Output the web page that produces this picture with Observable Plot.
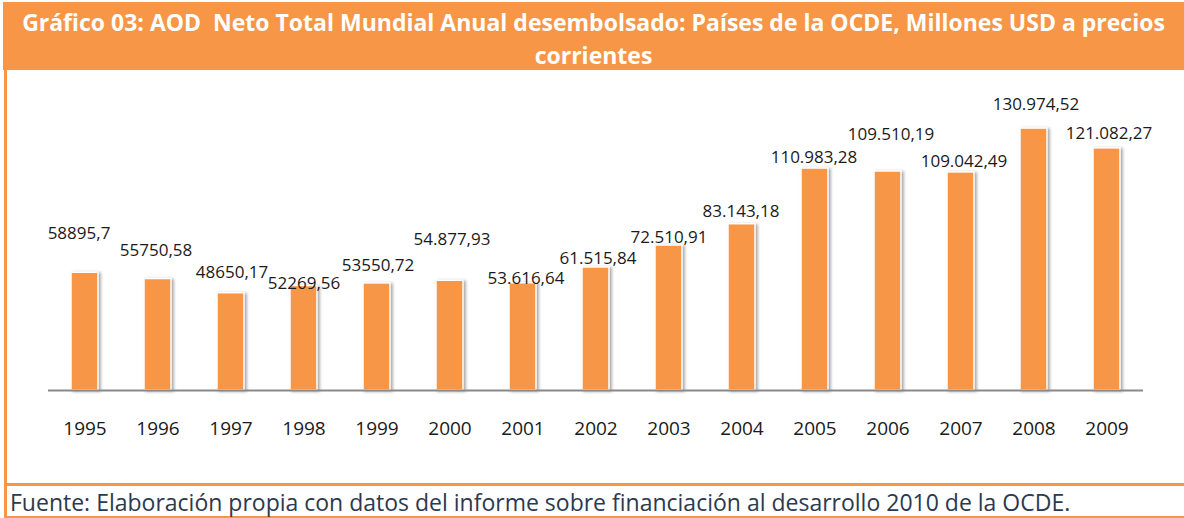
<!DOCTYPE html>
<html>
<head>
<meta charset="utf-8">
<script src="https://cdn.jsdelivr.net/npm/d3@7"></script>
<script src="https://cdn.jsdelivr.net/npm/@observablehq/plot@0.6"></script>
<style>
  html, body { margin: 0; padding: 0; background: #fff; width: 1184px; height: 518px; overflow: hidden; }
  body { position: relative; font-family: "Open Sans", sans-serif; }
  #title { position: absolute; left: 3px; top: 2px; width: 1181px; height: 68px; background: #f79646;
           color: #fff; font-weight: bold; font-size: 23px; text-align: center; line-height: 33px;
           padding-top: 4px; box-sizing: border-box; white-space: pre; }
  .orange { position: absolute; background: #f79646; }
  #chart { position: absolute; left: 0; top: 70px; }
  #source { position: absolute; left: 10px; top: 487px; font-size: 23px; line-height: 31px; color: #2b3a4f; white-space: nowrap; }
  g[aria-label="bar"] rect { filter: drop-shadow(2px 1px 1.5px rgba(0,0,0,0.35)); }
</style>
</head>
<body>
<div id="title">Gráfico 03: AOD  Neto Total Mundial Anual desembolsado: Países de la OCDE, Millones USD a precios
corrientes</div>
<div class="orange" style="left:4px; top:70px; width:3px; height:448px;"></div>
<div class="orange" style="left:4px; top:483px; width:1180px; height:3px;"></div>
<div class="orange" style="left:4px; top:516px; width:1180px; height:2px;"></div>
<div id="chart"></div>
<div id="source">Fuente: Elaboración propia con datos del informe sobre financiación al desarrollo 2010 de la OCDE.</div>
<script>
// Data
const years = ["1995","1996","1997","1998","1999","2000","2001","2002","2003","2004","2005","2006","2007","2008","2009"];
const values = [58895.7, 55750.58, 48650.17, 52269.56, 53550.72, 54877.93, 53616.64, 61515.84, 72510.91, 83143.18, 110983.28, 109510.19, 109042.49, 130974.52, 121082.27];
const labels = ["58895,7","55750,58","48650,17","52269,56","53550,72","54.877,93","53.616,64","61.515,84","72.510,91","83.143,18","110.983,28","109.510,19","109.042,49","130.974,52","121.082,27"];
// Label nudges (pixels) as placed in the original
const labelDx = [-6, -2, 1, 0, 1, 2, 3, 2, 0, -1, -1, 3, 3, 2, 2];
const labelDy = [-39, -28, -21, -2, -18, -41, -5, -9, -8, -13, -11, -37, -11, -24, -15];

const rows = years.map((y, i) => ({year: y, value: values[i], label: labels[i], dx: labelDx[i], dy: labelDy[i]}));

const textMarks = rows.map(d => Plot.text([d], {
  x: "year", y: "value", text: "label", dx: d.dx, dy: d.dy,
  fontSize: 17, fill: "#1a1a1a", lineAnchor: "middle"
}));

const plot = Plot.plot({
  width: 1184,
  height: 415,
  marginLeft: 48,
  marginRight: 41,
  marginTop: 20,
  marginBottom: 95,
  style: {fontFamily: "Open Sans, sans-serif", background: "transparent", overflow: "visible"},
  x: {domain: years, paddingInner: 0.63, paddingOuter: 0.315, label: null},
  y: {domain: [0, 150000], axis: null},
  marks: [
    Plot.barY(rows, {x: "year", y: "value", fill: "#f79646", stroke: "#ffffff", strokeWidth: 1.5}),
    Plot.ruleY([0], {stroke: "#898989", strokeWidth: 2}),
    Plot.axisX({tickSize: 0, tickPadding: 31, fontSize: 19, color: "#1a1a1a", label: null}),
    ...textMarks
  ]
});
document.getElementById("chart").appendChild(plot);
</script>
</body>
</html>
